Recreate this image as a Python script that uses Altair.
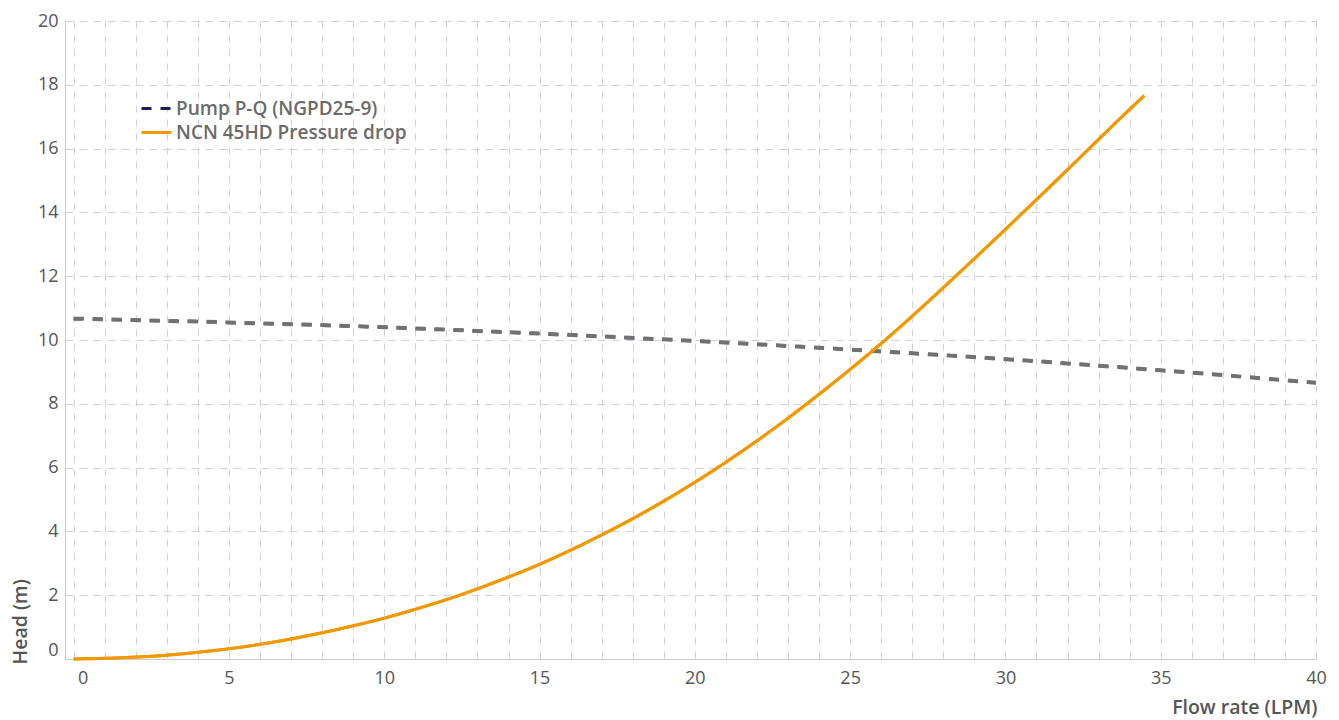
import altair as alt
import pandas as pd

# ---- data ----
pump_flow = [0, 5, 10, 15, 20, 25, 30, 35, 40]
pump_head = [10.67, 10.55, 10.40, 10.20, 9.97, 9.70, 9.40, 9.05, 8.66]

drop_flow = [0, 1, 2, 3, 4, 5, 6, 7, 8, 9, 10, 11, 12, 13, 14, 15, 16, 17, 18, 19,
             20, 21, 22, 23, 24, 25, 26, 27, 28, 29, 30, 31, 32, 33, 34, 34.47]
drop_head = [0.0, 0.02, 0.06, 0.12, 0.21, 0.32, 0.46, 0.63, 0.82, 1.04, 1.28, 1.56,
             1.86, 2.20, 2.57, 2.97, 3.41, 3.89, 4.40, 4.95, 5.54, 6.17, 6.84, 7.55,
             8.30, 9.08, 9.89, 10.75, 11.64, 12.55, 13.47, 14.40, 15.34, 16.29, 17.23, 17.66]

series_names = ["Pump P-Q (NGPD25-9)", "NCN 45HD Pressure drop"]
legend_colors = ["#1b1e5e", "#f39800"]
x_ticks = list(range(0, 41))
y_ticks = list(range(0, 21, 2))

pump_df = pd.DataFrame({"flow": pump_flow, "head": pump_head, "series": series_names[0]})
drop_df = pd.DataFrame({"flow": drop_flow, "head": drop_head, "series": series_names[1]})
all_df = pd.concat([pump_df, drop_df], ignore_index=True)

FONT = "Open Sans"
DASH = [10, 9]

x_enc = alt.X(
    "flow:Q",
    scale=alt.Scale(domain=[-0.28, 40], nice=False, zero=False),
    axis=alt.Axis(
        values=x_ticks,
        labelExpr="datum.value % 5 === 0 ? datum.label : ''",
        labelOverlap=False, labelFlush=False,
        labelFont=FONT, labelFontSize=18, labelColor="#555555",
        labelPadding=10,
        labelOffset={"condition": {"test": "datum.value === 0", "value": 9}, "value": 0},
        ticks=False,
        domainColor="#cccccc", domainWidth=1,
        grid=True, gridColor="#d2d2d2", gridDash=[7, 7], gridWidth=1,
        title="Flow rate (LPM)",
        titleFont=FONT, titleFontSize=19.5, titleFontWeight=600, titleColor="#555555",
        titleX=1252, titleY=54, titleAlign="right", titleBaseline="alphabetic",
    ),
)
y_enc = alt.Y(
    "head:Q",
    scale=alt.Scale(domain=[0, 20], nice=False, zero=False),
    axis=alt.Axis(
        values=y_ticks,
        labelFont=FONT, labelFontSize=18, labelColor="#555555",
        labelPadding=7,
        labelOffset={"condition": {"test": "datum.value === 0", "value": -9}, "value": 0},
        ticks=False,
        domainColor="#cccccc", domainWidth=1,
        grid=True, gridColor="#d2d2d2", gridDash=[8, 6], gridWidth=1,
        title="Head (m)",
        titleFont=FONT, titleFontSize=19.5, titleFontWeight=600, titleColor="#555555",
        titleAngle=270, titleX=-35, titleY=643, titleAlign="left", titleBaseline="bottom",
    ),
)

legend = alt.Legend(
    title=None, orient="none", legendX=82, legendY=78, padding=0,
    symbolType="M-2,0H2", symbolSize=225, symbolStrokeWidth=3,
    labelFont=FONT, labelFontSize=19, labelFontWeight=600, labelColor="#6b6b6b",
    labelOffset=10, labelLimit=500, rowPadding=4,
)

base_lines = alt.Chart(all_df).mark_line(strokeWidth=3, interpolate="monotone").encode(
    x=x_enc,
    y=y_enc,
    color=alt.Color("series:N", scale=alt.Scale(domain=series_names, range=legend_colors), legend=legend),
    strokeDash=alt.StrokeDash("series:N", scale=alt.Scale(domain=series_names, range=[DASH, [1, 0]]), legend=legend),
)

pump_overlay = alt.Chart(pump_df).mark_line(
    strokeWidth=4, color="#717171", strokeDash=DASH, interpolate="monotone"
).encode(x=x_enc, y=y_enc)

drop_top = alt.Chart(drop_df).mark_line(
    strokeWidth=3, color="#f39800", interpolate="monotone"
).encode(x=x_enc, y=y_enc)

chart = alt.layer(base_lines, pump_overlay, drop_top).properties(
    width=1251, height=638,
    autosize=alt.AutoSizeParams(type="none"),
    padding={"left": 57, "top": 13, "right": 12, "bottom": 64},
).configure_view(stroke=None)

chart.save("out.html", embed_options={"renderer": "svg", "actions": False})
